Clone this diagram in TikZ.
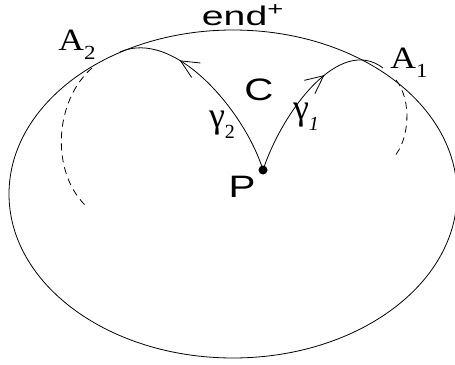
\documentclass[tikz,border=0pt]{standalone}
\usepackage{fontspec}
\setmainfont{Liberation Serif}
\setsansfont{Liberation Sans}
\usetikzlibrary{arrows.meta, decorations.markings}
\tikzset{
  rim/.style={line width=0.8pt},
  ray/.style={line width=0.8pt, postaction={decorate},
    decoration={markings, mark=at position #1 with
      {\arrow{Straight Barb[length=18pt, width=17pt, line width=0.8pt]}}}},
  ghost/.style={line width=0.8pt, dash pattern=on 7pt off 5pt},
  sanslbl/.style={font=\sffamily\fontsize{31}{36}\selectfont, inner sep=0pt},
  seriflbl/.style={font=\fontsize{31}{36}\selectfont, inner sep=0pt},
  greeklbl/.style={font=\fontsize{36}{40}\selectfont, inner sep=0pt},
  dot/.style={circle, fill, inner sep=0pt, minimum size=9pt},
}
\newcommand{\wide}[2]{\scalebox{#1}[1]{#2}}
\newcommand{\low}[1]{\raisebox{-0.3em}{\fontsize{20}{24}\selectfont #1}}

\begin{document}
\begin{tikzpicture}[x=1pt, y=-1pt]
  \useasboundingbox (0,0) rectangle (455,364);

  % the region and its boundary at infinity
  \draw[rim] (233,194) ellipse [x radius=224pt, y radius=164pt];
  \node[sanslbl, font=\sffamily\fontsize{27}{30}\selectfont, anchor=base] (endlbl) at (243,25)
    {\wide{1.45}{end\textsuperscript{+}}};

  \node[dot] (P) at (263,170) {};
  \node[sanslbl] (Plbl) at (242,187) {\wide{1.3}{P}};
  \node[sanslbl] (C) at (259,90) {\wide{1.3}{C}};

  \coordinate (a2) at (120,52);
  \coordinate (a1) at (383,68);
  \node[seriflbl] (A2) at (77,45) {\wide{1.15}{A\low{2}}};
  \node[seriflbl] (A1) at (409,63) {\wide{1.15}{A\low{1}}};

  \draw[ray=0.69] (P.center) .. controls (245,112) and (175,28) .. (a2);
  \draw[ray=0.64] (P.center) .. controls (283,110) and (340,35) .. (a1);
  \node[greeklbl] (g2) at (222,125) {γ\low{2}};
  \node[greeklbl] (g1) at (306,117) {γ\low{\itshape 1}};

  % dashed returns
  \draw[ghost] (92,68) .. controls (55,100) and (50,170) .. (85,205);
  \draw[ghost] (396,80) .. controls (412,100) and (410,140) .. (393,158);
\end{tikzpicture}
\end{document}
